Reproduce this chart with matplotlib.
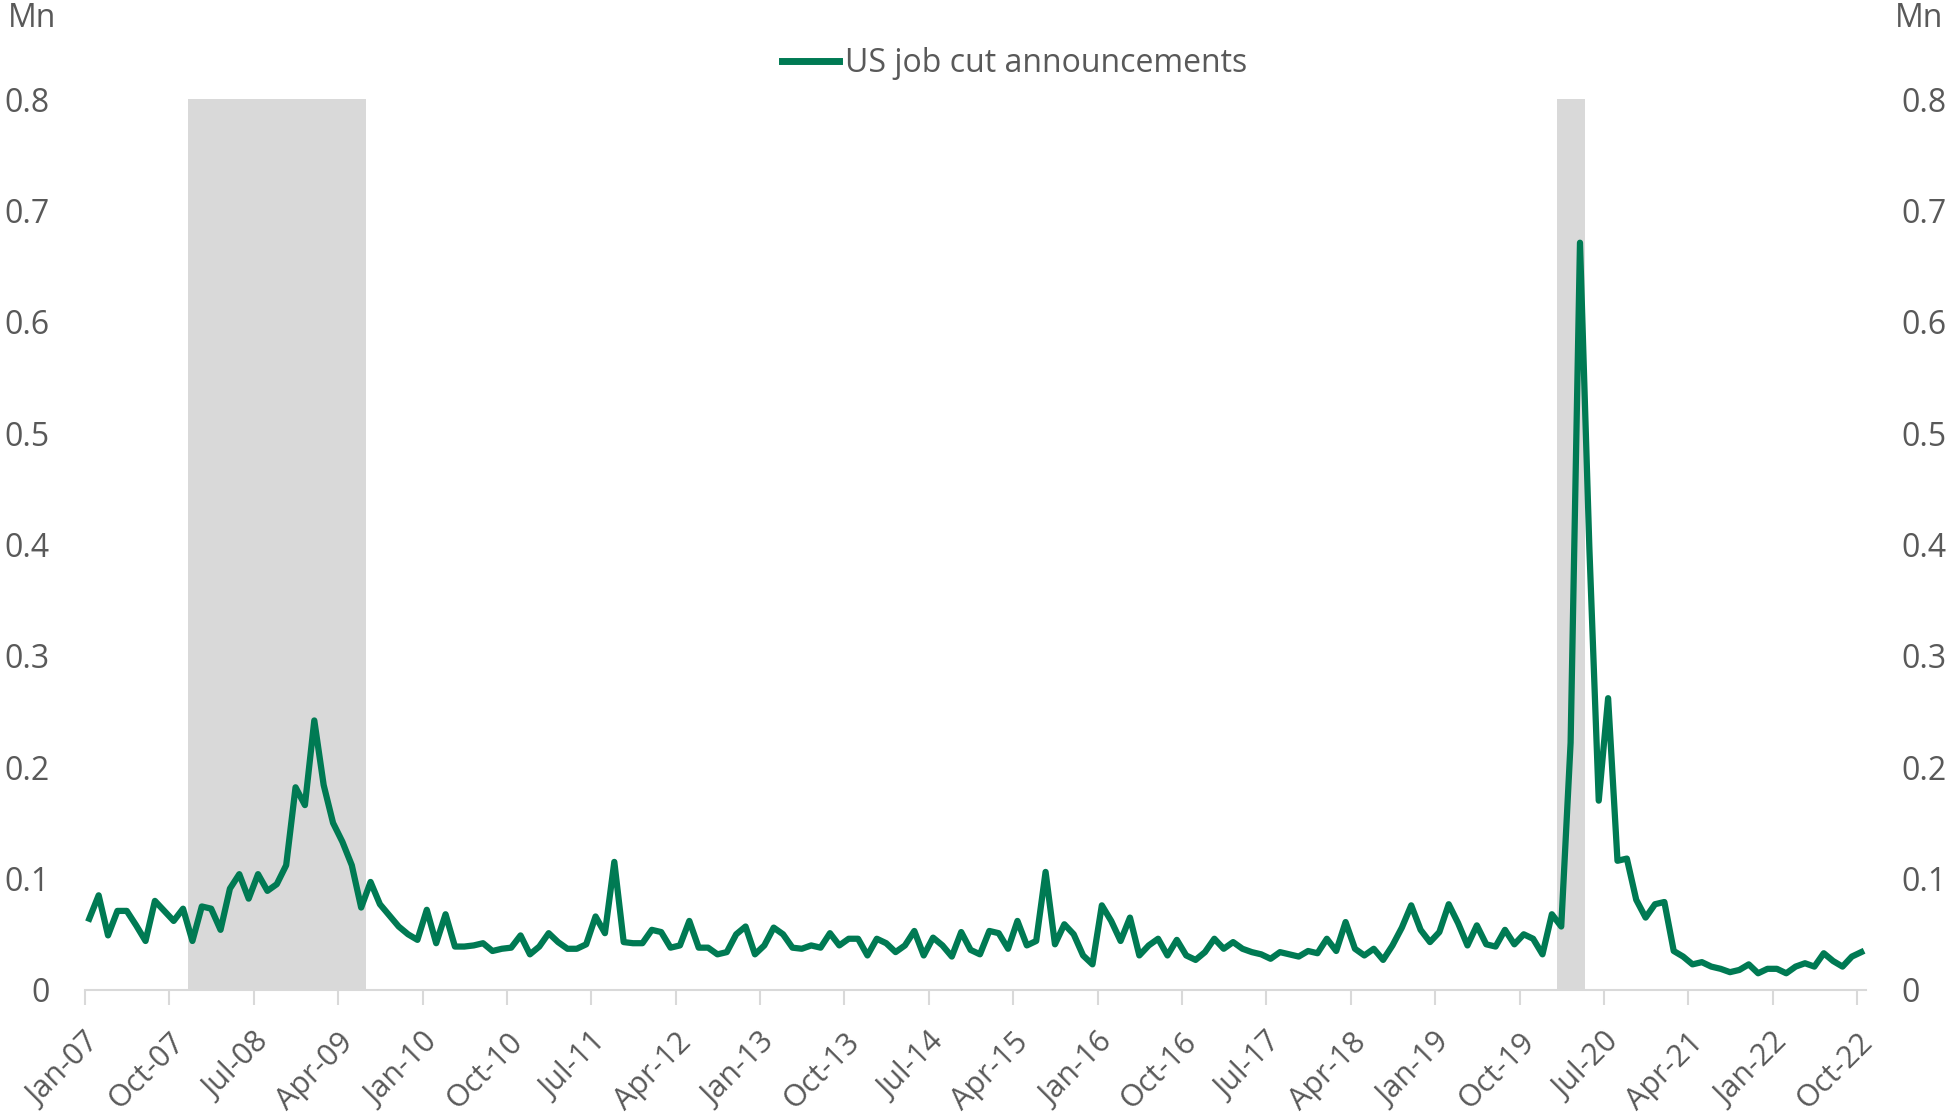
import matplotlib.pyplot as plt
import numpy as np

plt.rcParams['font.family'] = ['Open Sans', 'DejaVu Sans']

# monthly US job cut announcements, Jan-07 .. Oct-22 (millions)
job_cuts = [
    0.064, 0.085, 0.049, 0.071, 0.071, 0.058, 0.044, 0.080, 0.071, 0.062, 0.073, 0.044,  # 2007
    0.075, 0.073, 0.054, 0.091, 0.104, 0.082, 0.104, 0.089, 0.095, 0.112, 0.182, 0.166,  # 2008
    0.242, 0.184, 0.150, 0.133, 0.112, 0.074, 0.097, 0.077, 0.067, 0.057, 0.050, 0.045,  # 2009
    0.072, 0.042, 0.068, 0.039, 0.039, 0.040, 0.042, 0.035, 0.037, 0.038, 0.049, 0.032,  # 2010
    0.039, 0.051, 0.043, 0.037, 0.037, 0.041, 0.066, 0.051, 0.115, 0.043, 0.042, 0.042,  # 2011
    0.054, 0.052, 0.038, 0.040, 0.062, 0.038, 0.038, 0.032, 0.034, 0.050, 0.057, 0.032,  # 2012
    0.040, 0.056, 0.050, 0.038, 0.037, 0.040, 0.038, 0.051, 0.040, 0.046, 0.046, 0.031,  # 2013
    0.046, 0.042, 0.034, 0.040, 0.053, 0.031, 0.047, 0.040, 0.030, 0.052, 0.036, 0.032,  # 2014
    0.053, 0.051, 0.037, 0.062, 0.040, 0.044, 0.106, 0.041, 0.059, 0.050, 0.031, 0.023,  # 2015
    0.076, 0.062, 0.044, 0.065, 0.031, 0.040, 0.046, 0.031, 0.045, 0.031, 0.027, 0.034,  # 2016
    0.046, 0.037, 0.043, 0.037, 0.034, 0.032, 0.028, 0.034, 0.032, 0.030, 0.035, 0.033,  # 2017
    0.046, 0.035, 0.061, 0.037, 0.031, 0.037, 0.027, 0.040, 0.056, 0.076, 0.054, 0.043,  # 2018
    0.052, 0.077, 0.060, 0.040, 0.058, 0.041, 0.039, 0.054, 0.041, 0.050, 0.046, 0.032,  # 2019
    0.068, 0.057, 0.222, 0.671, 0.397, 0.170, 0.262, 0.116, 0.118, 0.081, 0.065, 0.077,  # 2020
    0.079, 0.035, 0.030, 0.023, 0.025, 0.021, 0.019, 0.016, 0.018, 0.023, 0.015, 0.019,  # 2021
    0.019, 0.015, 0.021, 0.024, 0.021, 0.033, 0.026, 0.021, 0.030, 0.034,                # 2022
]

month_names = ['Jan', 'Feb', 'Mar', 'Apr', 'May', 'Jun', 'Jul', 'Aug', 'Sep', 'Oct', 'Nov', 'Dec']
labels = ['%s-%02d' % (month_names[k % 12], (7 + k // 12) % 100) for k in range(len(job_cuts))]

# recessions (first and last month index)
recessions = [(11, 29), (157, 159)]

green = '#007A53'
grey_txt = '#595959'

fig = plt.figure(figsize=(19.51, 11.19), dpi=100)
ax = fig.add_axes([0.0436, 0.1153, 0.9128, 0.7962])

x = np.arange(len(job_cuts))
for a, b in recessions:
    ax.axvspan(a - 0.45, b + 0.5, color='#D9D9D9', lw=0, zorder=0)
ax.plot(x, job_cuts, color=green, lw=4.5, solid_joinstyle='round', label='US job cut announcements', zorder=3)

ax.set_xlim(-0.45, len(job_cuts) - 0.5)
ax.set_ylim(0, 0.8)

ticks = np.arange(0, len(job_cuts), 9)
ax.set_xticks(ticks - 0.45)
ax.set_xticklabels([labels[t] for t in ticks], rotation=45, ha='right', rotation_mode='anchor',
                   fontsize=22, color=grey_txt)

yt = np.arange(0, 0.81, 0.1)
ax.set_yticks(yt)
ax.set_yticklabels(['0'] + ['%.1f' % v for v in yt[1:]], fontsize=23, color=grey_txt)
ax.tick_params(axis='y', left=False, right=False, labelleft=True, labelright=True, pad=22)
ax.tick_params(axis='x', direction='out', length=11, width=1.5, color='#D9D9D9', pad=16)

for s in ['top', 'left', 'right']:
    ax.spines[s].set_visible(False)
ax.spines['bottom'].set_color('#D9D9D9')
ax.spines['bottom'].set_linewidth(1.5)

fig.text(0.004, 0.998, 'Mn', fontsize=23, color=grey_txt, ha='left', va='top')
fig.text(0.996, 0.998, 'Mn', fontsize=23, color=grey_txt, ha='right', va='top')

leg = ax.legend(loc='center', bbox_to_anchor=(0.522, 1.04), frameon=False, fontsize=23,
                handlelength=1.8, handletextpad=0.2, labelcolor=grey_txt)
for h in leg.get_lines():
    h.set_linewidth(5)

fig.savefig('out.png', dpi=100)
